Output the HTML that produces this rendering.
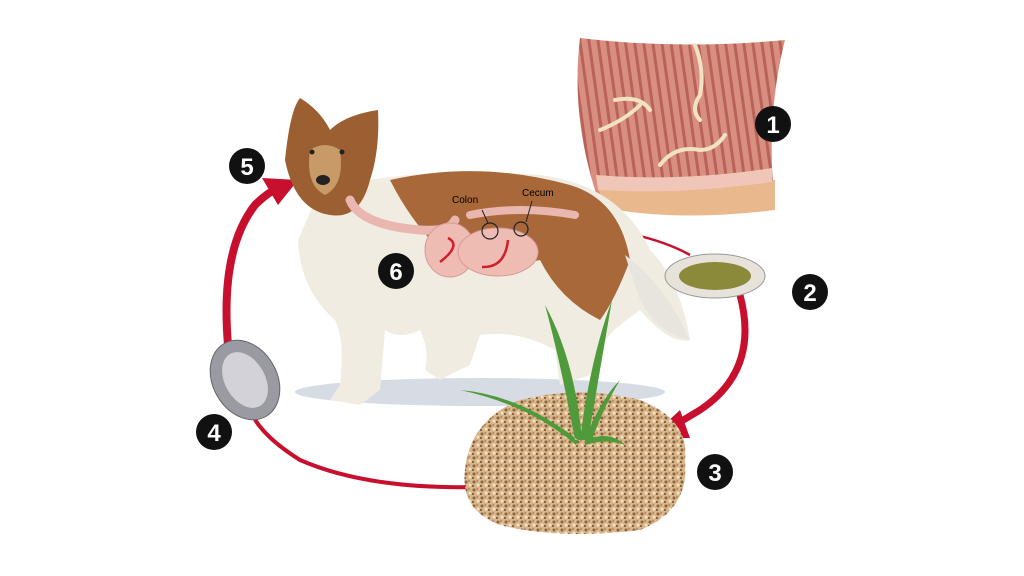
<!DOCTYPE html>
<html><head><style>html,body{margin:0;padding:0;background:#fff}svg{display:block}</style></head>
<body>
<svg width="1024" height="576" viewBox="0 0 1024 576" xmlns="http://www.w3.org/2000/svg" font-family="Liberation Sans, sans-serif">
<defs>
<pattern id="str" width="9" height="9" patternUnits="userSpaceOnUse" patternTransform="rotate(-8)">
<rect width="9" height="9" fill="#d98f80"/><rect width="3" height="9" fill="#b8625a"/></pattern>
<pattern id="soil" width="8" height="8" patternUnits="userSpaceOnUse">
<rect width="8" height="8" fill="#d9b58a"/><circle cx="2" cy="2" r="1.5" fill="#8a6440"/><circle cx="6" cy="5" r="1.4" fill="#f3e4cc"/><circle cx="5" cy="1" r="1" fill="#b08458"/><circle cx="1" cy="6" r="1" fill="#6b4a2e"/></pattern>
</defs>
<!-- intestine tile -->
<path d="M580 38 Q680 50 785 40 Q765 120 775 205 Q680 220 600 205 Q570 120 580 38Z" fill="url(#str)"/>
<path d="M598 188 Q680 195 775 180 L775 210 Q680 222 605 208Z" fill="#e9b88c"/>
<path d="M596 175 Q680 182 772 168 L772 182 Q680 195 598 190Z" fill="#f0c6b8"/>
<path d="M615 100 Q640 95 650 110 M600 130 Q625 120 640 105" stroke="#f1e2c4" stroke-width="4" fill="none" stroke-linecap="round"/>
<path d="M695 45 Q705 70 700 95 Q690 110 700 120" stroke="#f1e2c4" stroke-width="4" fill="none" stroke-linecap="round"/>
<path d="M660 165 Q675 145 700 150 Q715 150 725 135" stroke="#f1e2c4" stroke-width="4" fill="none" stroke-linecap="round"/>
<!-- red arrows -->
<path d="M610 230 Q660 238 690 255" stroke="#c8102e" stroke-width="2.5" fill="none"/>
<path d="M740 295 Q760 370 700 410 L675 425" stroke="#c8102e" stroke-width="7" fill="none"/>
<polygon points="650,438 680,410 690,438" fill="#c8102e"/>
<path d="M520 485 Q380 495 300 460 Q260 435 250 410" stroke="#c8102e" stroke-width="4" fill="none"/>
<path d="M228 345 Q220 250 255 205 Q270 190 285 185" stroke="#c8102e" stroke-width="8" fill="none"/>
<polygon points="298,180 262,178 278,205" fill="#c8102e"/>
<!-- shadow -->
<ellipse cx="480" cy="392" rx="185" ry="14" fill="#d6dbe4"/>
<!-- dog body with legs -->
<path d="M320 190 Q420 165 540 175 Q620 185 650 250 Q680 280 690 340 Q670 345 640 310 L620 325 Q600 340 590 375 L560 385 L555 350 Q520 330 480 335 L470 365 L455 372 L440 380 L425 370 Q430 350 420 330 Q400 340 385 330 L380 390 L360 405 L330 400 L340 385 Q345 340 335 320 Q300 290 298 240Z" fill="#f1ece2"/>
<path d="M390 180 Q480 160 570 185 Q620 200 630 260 Q615 300 600 320 Q560 300 540 260 Q500 270 440 250 Q410 220 390 180Z" fill="#a8683a"/>
<path d="M625 255 Q665 285 690 340 Q660 335 640 300Z" fill="#e8e4de"/>
<!-- head -->
<path d="M285 160 Q290 110 300 98 Q320 110 330 130 Q345 115 378 110 Q380 150 370 180 Q360 220 330 215 Q295 210 285 160Z" fill="#9c5f32"/>
<path d="M310 150 Q325 140 340 150 Q345 185 325 195 Q305 185 310 150Z" fill="#c79a68"/>
<ellipse cx="323" cy="180" rx="7" ry="5" fill="#222"/>
<circle cx="312" cy="152" r="2.5" fill="#222"/><circle cx="342" cy="152" r="2.5" fill="#222"/>
<!-- GI tract -->
<path d="M350 200 Q360 225 420 230 Q450 232 455 220" stroke="#e9b7b0" stroke-width="9" fill="none" stroke-linecap="round"/>
<path d="M470 215 Q520 205 575 215" stroke="#e9b7b0" stroke-width="8" fill="none" stroke-linecap="round"/>
<ellipse cx="450" cy="250" rx="25" ry="27" fill="#efbcb4" stroke="#d79a94"/>
<ellipse cx="498" cy="252" rx="40" ry="24" fill="#efbcb4" stroke="#d79a94"/>
<circle cx="490" cy="231" r="8" fill="none" stroke="#222" stroke-width="1.2"/>
<circle cx="521" cy="229" r="7" fill="none" stroke="#222" stroke-width="1.2"/>
<line x1="482" y1="210" x2="488" y2="223" stroke="#222"/><line x1="532" y1="201" x2="526" y2="222" stroke="#222"/>
<text x="452" y="203" font-size="10">Colon</text><text x="522" y="196" font-size="10">Cecum</text>
<path d="M448 238 Q462 245 440 262 M482 267 Q505 268 508 240" stroke="#d0202a" stroke-width="2.5" fill="none"/>
<!-- eggs -->
<ellipse cx="715" cy="276" rx="50" ry="22" fill="#e7e3da" stroke="#999"/>
<ellipse cx="715" cy="276" rx="36" ry="14" fill="#8a8a3a"/>
<ellipse cx="245" cy="380" rx="32" ry="42" transform="rotate(-30 245 380)" fill="#9a9aa2" stroke="#666"/>
<ellipse cx="245" cy="380" rx="20" ry="30" transform="rotate(-30 245 380)" fill="#d2d2d8"/>
<!-- soil -->
<path d="M465 470 Q470 420 520 400 Q580 385 640 400 Q690 420 685 460 Q690 510 640 530 Q560 540 500 525 Q460 510 465 470Z" fill="url(#soil)"/>
<!-- grass -->
<path d="M575 440 Q560 360 545 305 Q575 360 582 440Z M580 440 Q590 360 612 300 Q600 370 588 440Z M578 440 Q520 395 460 390 Q530 405 576 445Z M585 440 Q600 400 620 380 Q602 410 590 445Z M585 440 Q610 430 625 445 Q605 438 585 445Z" fill="#4f9a3a"/>
<!-- numbers -->
<g font-weight="bold" font-size="24" fill="#fff" text-anchor="middle">
<circle cx="773" cy="124" r="18" fill="#111"/><text x="773" y="133">1</text>
<circle cx="810" cy="292" r="18" fill="#111"/><text x="810" y="301">2</text>
<circle cx="715" cy="472" r="18" fill="#111"/><text x="715" y="481">3</text>
<circle cx="214" cy="432" r="18" fill="#111"/><text x="214" y="441">4</text>
<circle cx="247" cy="166" r="18" fill="#111"/><text x="247" y="175">5</text>
<circle cx="396" cy="271" r="18" fill="#111"/><text x="396" y="280">6</text>
</g>
</svg>
</body></html>
